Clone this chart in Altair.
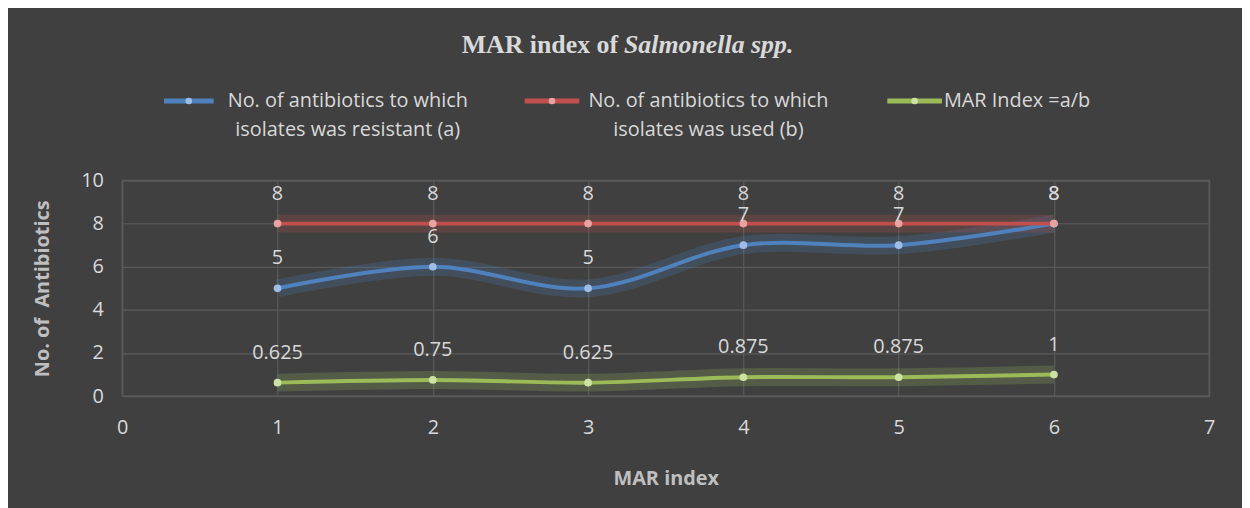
import altair as alt
import pandas as pd

# ---- data ----
isolates = [1, 2, 3, 4, 5, 6]
resistant_a = [5, 6, 5, 7, 7, 8]
used_b = [8, 8, 8, 8, 8, 8]
mar_index = [0.625, 0.75, 0.625, 0.875, 0.875, 1]

series_names = [
    "No. of antibiotics to which isolates was resistant (a)",
    "No. of antibiotics to which isolates was used (b)",
    "MAR Index =a/b",
]
legend_lines = [
    ["No. of antibiotics to which", "isolates was resistant (a)"],
    ["No. of antibiotics to which", "isolates was used (b)"],
    ["MAR Index =a/b"],
]
line_colors = ["#4F81BD", "#C0504D", "#9BBB59"]
point_colors = ["#9DBDE6", "#E8A3A1", "#CDE3A3"]

rows = []
for name, vals in zip(series_names, [resistant_a, used_b, mar_index]):
    for x, v in zip(isolates, vals):
        rows.append({"series": name, "x": x, "y": v, "label": f"{v:g}"})
df = pd.DataFrame(rows)

FONT = "Open Sans"
TXT = "#D9D9D9"
FS = 20

color_scale = alt.Scale(domain=series_names, range=line_colors)
fill_scale = alt.Scale(domain=series_names, range=point_colors)

xenc = alt.X("x:Q", scale=alt.Scale(domain=[0, 7], nice=False),
             axis=alt.Axis(values=list(range(0, 8)), format="d", title="MAR index", grid=True,
                           ticks=False, labelPadding=22, titlePadding=31,
                           labelFlush=False))
yenc = alt.Y("y:Q", scale=alt.Scale(domain=[0, 10], nice=False),
             axis=alt.Axis(values=[0, 2, 4, 6, 8, 10], format="d",
                           title="No. of\u00a0 Antibiotics", grid=True,
                           ticks=False, labelPadding=19, titlePadding=28))

base = alt.Chart(df)

glow = base.mark_line(strokeWidth=18, opacity=0.22, interpolate="catmull-rom").encode(
    x=xenc, y=yenc,
    color=alt.Color("series:N", scale=color_scale, legend=None),
    detail="series:N",
)
line = base.mark_line(strokeWidth=4, interpolate="catmull-rom").encode(
    x="x:Q", y="y:Q",
    color=alt.Color("series:N", scale=color_scale, legend=None),
)
points = base.mark_circle(size=60, opacity=1).encode(
    x="x:Q", y="y:Q",
    fill=alt.Fill("series:N", scale=fill_scale, legend=None),
)
labels = base.mark_text(dy=-30, fontSize=FS, font=FONT, color=TXT).encode(
    x="x:Q", y="y:Q", text="label:N",
)

# ---- title ----
title1 = alt.Chart(pd.DataFrame({"t": ["MAR index of"]})).mark_text(
    font="Liberation Serif", fontSize=26, fontWeight="bold", align="right",
    baseline="alphabetic", color=TXT,
).encode(x=alt.value(499), y=alt.value(-128), text="t:N")
title2 = alt.Chart(pd.DataFrame({"t": ["Salmonella spp."]})).mark_text(
    font="Liberation Serif", fontSize=26, fontStyle="italic", fontWeight="bold",
    align="left", baseline="alphabetic", color=TXT,
).encode(x=alt.value(505), y=alt.value(-128), text="t:N")

# ---- custom legend ----
legend_layers = []
line_x = [(42, 92), (405, 460), (770, 825)]
text_x = [227, 590, 827]
text_align = ["center", "center", "left"]
for i in range(3):
    x1, x2 = line_x[i]
    ldf = pd.DataFrame({"s": [series_names[i]]})
    legend_layers.append(
        alt.Chart(ldf).mark_rule(strokeWidth=5, color=line_colors[i]).encode(
            x=alt.value(x1), x2=alt.value(x2), y=alt.value(-80))
    )
    legend_layers.append(
        alt.Chart(ldf).mark_circle(size=45, opacity=1, color=point_colors[i]).encode(
            x=alt.value((x1 + x2) / 2), y=alt.value(-80))
    )
    legend_layers.append(
        alt.Chart(ldf).mark_text(
            font=FONT, fontSize=FS, color=TXT, align=text_align[i], baseline="middle",
            lineHeight=29,
        ).encode(x=alt.value(text_x[i]), y=alt.value(-80), text=alt.value(legend_lines[i]))
    )

chart = alt.layer(glow, line, points, labels, title1, title2, *legend_layers).properties(
    width=1094, height=217,
    background="#404040",
    autosize=alt.AutoSizeParams(type="none"),
    padding={"left": 115, "top": 172, "right": 33, "bottom": 111},
).configure_view(
    stroke="#5A5A5A", strokeWidth=1.5,
).configure_axis(
    domainColor="#5A5A5A", gridColor="#5A5A5A", gridWidth=1.2,
    labelColor=TXT, labelFont=FONT, labelFontSize=FS,
    titleColor="#BFBFBF", titleFont=FONT, titleFontSize=FS, titleFontWeight="bold",
)

chart.save("out.html", embed_options={"renderer": "svg", "actions": False})
